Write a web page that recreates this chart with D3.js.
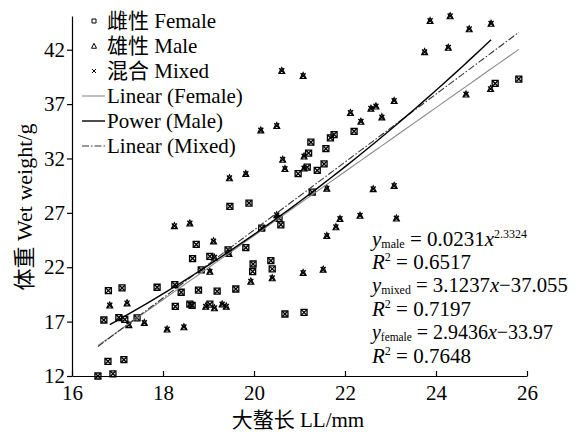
<!DOCTYPE html>
<html>
<head>
<meta charset="utf-8">
<script src="https://cdn.jsdelivr.net/npm/d3@7"></script>
<style>
  body { margin: 0; background: #fff; }
  text { font-family: "Liberation Serif", "Noto Sans CJK SC", serif; fill: #000; }
</style>
</head>
<body>
<div id="container"></div>
<script>
// crab claw length vs wet weight

const width = 577,
  height = 433,
  margin = { top: 16, bottom: 57, left: 72, right: 50 }

// female points (LL mm, wet weight g)
const femaleX = [16.57, 16.90, 16.79, 17.14, 16.70, 17.03, 17.16, 17.43, 16.80, 17.10,
  17.87, 18.26, 18.40, 18.27, 18.59, 18.64, 18.78, 19.03, 19.19, 18.84,
  18.73, 18.65, 19.03, 19.43, 19.47, 19.89, 20.17, 20.55, 20.59, 19.82,
  19.98, 19.97, 20.37, 20.40, 19.60, 20.68, 21.10, 21.20, 21.17, 20.97,
  21.39, 21.54, 21.25, 21.68, 21.76, 21.58, 22.20, 25.30, 25.82, 21.28]
const femaleY = [12.0, 12.2, 13.35, 13.5, 17.15, 17.37, 17.2, 17.34, 19.85, 20.1,
  20.16, 20.4, 19.7, 18.4, 18.6, 18.5, 19.9, 18.6, 19.8, 21.75,
  24.1, 22.8, 23.0, 23.6, 27.6, 27.9, 25.6, 26.5, 25.9, 23.8,
  22.3, 21.6, 22.6, 21.85, 20.0, 17.7, 17.85, 32.5, 31.2, 30.6,
  30.9, 31.5, 33.5, 33.9, 34.2, 32.9, 34.5, 38.9, 39.3, 28.9]

// male points
const maleX = [17.25, 17.59, 16.83, 17.21, 18.09, 18.46, 18.94, 19.13, 19.30, 19.39,
  19.03, 18.25, 18.59, 19.11, 19.13, 19.45, 19.46, 20.63, 20.68, 21.10,
  21.10, 19.82, 21.60, 22.62, 22.33, 21.89, 21.80, 21.60, 20.50, 19.93,
  20.40, 21.08, 21.52, 20.61, 21.08, 20.15, 20.50, 22.12, 22.35, 22.57,
  22.68, 22.81, 23.08, 23.87, 24.31, 24.73, 25.21, 23.75, 24.27, 24.66,
  25.20, 23.08, 23.13]
const maleY = [16.7, 16.9, 18.5, 18.7, 16.3, 16.5, 18.4, 18.25, 18.6, 18.4,
  21.6, 25.8, 26.05, 24.4, 22.9, 23.25, 30.2, 31.9, 31.05, 31.1,
  32.2, 30.6, 29.25, 29.2, 26.75, 26.45, 25.7, 24.9, 26.8, 20.7,
  21.0, 21.5, 21.8, 40.06, 39.6, 34.6, 35.0, 36.2, 35.4, 36.6,
  36.8, 35.8, 37.3, 44.66, 45.1, 43.9, 44.4, 41.8, 42.2, 37.9,
  38.4, 29.5, 26.5]

// fitted trend lines (from the equations printed on the figure)
const femaleFit = [2.9436, -33.97]      // y = a x + b
const mixedFit = [3.1237, -37.055]      // y = a x + b
const maleFit = [0.0231, 2.3324]        // y = a x^b

const xTicks = [16, 18, 20, 22, 24, 26]
const yTicks = [12, 17, 22, 27, 32, 37, 42]

const legendLabels = ["雌性 Female", "雄性 Male", "混合 Mixed", "Linear (Female)", "Power (Male)", "Linear (Mixed)"]

const female = femaleX.map((x, i) => ({ x: x, y: femaleY[i] }))
const male = maleX.map((x, i) => ({ x: x, y: maleY[i] }))
const mixed = female.concat(male)

// scales
const xScale = d3.scaleLinear()
  .domain([16, 26])
  .range([margin.left, width - margin.right])

const yScale = d3.scaleLinear()
  .domain([12, 45.1])
  .range([height - margin.bottom, margin.top])

const svg = d3.select("#container")
  .append("svg")
  .attr("width", width)
  .attr("height", height)

// axes
const xAxis = d3.axisBottom(xScale)
  .tickValues(xTicks)
  .tickSizeInner(-5)
  .tickSizeOuter(0)
  .tickPadding(9)

const xAxisGroup = svg.append("g")
  .attr("transform", `translate(0, ${height - margin.bottom})`)
  .call(xAxis)

const yAxis = d3.axisLeft(yScale)
  .tickValues(yTicks)
  .tickSizeInner(5)
  .tickSizeOuter(0)
  .tickPadding(2)

const yAxisGroup = svg.append("g")
  .attr("transform", `translate(${margin.left}, 0)`)
  .call(yAxis)

svg.selectAll(".tick text")
  .style("font-size", "21px")
  .style("font-family", "'Liberation Serif', serif")
svg.selectAll(".domain, .tick line")
  .attr("stroke", "#000")
  .attr("stroke-width", 1.2)

svg.append("text")
  .attr("x", 298)
  .attr("y", 427)
  .attr("text-anchor", "middle")
  .style("font-size", "21px")
  .text("大螯长 LL/mm")

svg.append("text")
  .attr("transform", `translate(32, 207) rotate(-90)`)
  .attr("text-anchor", "middle")
  .style("font-size", "22px")
  .text("体重 Wet weight/g")

// markers
const sq = s => `M${-s / 2},${-s / 2}h${s}v${s}h${-s}Z`
const tri = s => `M0,${-s * 0.55}L${s * 0.5},${s * 0.45}L${-s * 0.5},${s * 0.45}Z`
const cross = s => `M${-s / 2},${-s / 2}L${s / 2},${s / 2}M${s / 2},${-s / 2}L${-s / 2},${s / 2}`

const markSize = 6

svg.append("g").selectAll("path")
  .data(female)
  .join("path")
  .attr("transform", d => `translate(${xScale(d.x)}, ${yScale(d.y)})`)
  .attr("d", sq(markSize))
  .attr("fill", "none")
  .attr("stroke", "#000")
  .attr("stroke-width", 1.3)

svg.append("g").selectAll("path")
  .data(male)
  .join("path")
  .attr("transform", d => `translate(${xScale(d.x)}, ${yScale(d.y)})`)
  .attr("d", tri(markSize))
  .attr("fill", "none")
  .attr("stroke", "#000")
  .attr("stroke-width", 1.1)

svg.append("g").selectAll("path")
  .data(mixed)
  .join("path")
  .attr("transform", d => `translate(${xScale(d.x)}, ${yScale(d.y)})`)
  .attr("d", cross(markSize - 1))
  .attr("fill", "none")
  .attr("stroke", "#000")
  .attr("stroke-width", 1.4)

// trend lines
const lineGen = d3.line()
  .x(d => xScale(d[0]))
  .y(d => yScale(d[1]))

const fitPoints = (pts, f) => {
  const [lo, hi] = d3.extent(pts, d => d.x)
  return d3.range(0, 41).map(i => {
    const x = lo + (hi - lo) * i / 40
    return [x, f(x)]
  })
}

const fits = [
  { pts: fitPoints(female, x => femaleFit[0] * x + femaleFit[1]), stroke: "#8a8a8a", w: 1.1, dash: null },
  { pts: fitPoints(mixed, x => mixedFit[0] * x + mixedFit[1]), stroke: "#333", w: 1.1, dash: "7,2,1.5,2" },
  { pts: fitPoints(male, x => maleFit[0] * Math.pow(x, maleFit[1])), stroke: "#000", w: 1.4, dash: null }
]

svg.selectAll(".fit")
  .data(fits)
  .join("path")
  .attr("class", "fit")
  .attr("d", d => lineGen(d.pts))
  .attr("fill", "none")
  .attr("stroke", d => d.stroke)
  .attr("stroke-width", d => d.w)
  .attr("stroke-dasharray", d => d.dash)

// legend
const legend = svg.append("g")
const rowY = i => 21 + i * 25

legend.selectAll("text")
  .data(legendLabels)
  .join("text")
  .attr("x", 107)
  .attr("y", (d, i) => rowY(i))
  .attr("dy", "0.35em")
  .style("font-size", "21px")
  .text(d => d)

legend.append("path")
  .attr("transform", `translate(94, ${rowY(0)})`)
  .attr("d", sq(4))
  .attr("fill", "none").attr("stroke", "#000")
legend.append("path")
  .attr("transform", `translate(94, ${rowY(1)})`)
  .attr("d", tri(5))
  .attr("fill", "none").attr("stroke", "#000")
legend.append("path")
  .attr("transform", `translate(94, ${rowY(2)})`)
  .attr("d", cross(4))
  .attr("fill", "none").attr("stroke", "#000")

fits.forEach((f, i) => {
  const order = [3, 5, 4]
  legend.append("line")
    .attr("x1", 82).attr("x2", 105)
    .attr("y1", rowY(order[i])).attr("y2", rowY(order[i]))
    .attr("stroke", f.stroke)
    .attr("stroke-width", f.w)
    .attr("stroke-dasharray", f.dash)
})

// equations, squeezed to the widths they take in the figure
const eqX = 372
const eq = svg.append("g").style("font-size", "21px")
const eqRows = [
  { y: 246, w: 160, parts: [["y", "i"], ["male", "sub"], [" = 0.0231", ""], ["x", "i"], ["2.3324", "sup"]] },
  { y: 269, w: 110, parts: [["R", "i"], ["2", "sup"], [" = 0.6517", ""]] },
  { y: 292, w: 196, parts: [["y", "i"], ["mixed", "sub"], [" = 3.1237", ""], ["x", "i"], ["\u221237.055", ""]] },
  { y: 316, w: 110, parts: [["R", "i"], ["2", "sup"], [" = 0.7197", ""]] },
  { y: 339, w: 181, parts: [["y", "i"], ["female", "sub"], [" = 2.9436", ""], ["x", "i"], ["\u221233.97", ""]] },
  { y: 363, w: 110, parts: [["R", "i"], ["2", "sup"], [" = 0.7648", ""]] }
]

eqRows.forEach(r => {
  const t = eq.append("text").attr("x", 0).attr("y", 0)
  r.parts.forEach((p, k) => {
    const s = t.append("tspan").text(p[0])
    if (p[1] === "i") s.style("font-style", "italic")
    if (p[1] === "sub") s.style("font-size", "12px").attr("dy", 1.5)
    if (p[1] === "sup") s.style("font-size", "12px").attr("dy", -8)
    // back to the baseline after sub/sup
    const prev = r.parts[k - 1]
    if (p[1] === "" && prev && prev[1] === "sub") s.attr("dy", -1.5)
    if (p[1] === "" && prev && prev[1] === "sup") s.attr("dy", 8)
  })
  const natural = t.node().getComputedTextLength()
  const sx = Math.min(1, r.w / natural)
  t.attr("transform", `translate(${eqX}, ${r.y}) scale(${sx}, 1)`)
})
</script>
</body>
</html>
